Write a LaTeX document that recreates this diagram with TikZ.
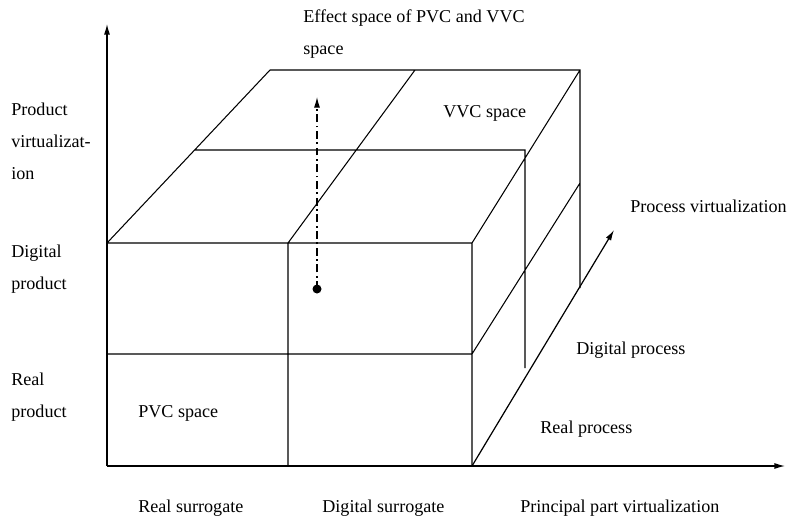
\documentclass[tikz,border=0pt]{standalone}
\usepackage{fontspec}
\setmainfont{Liberation Serif}
\usetikzlibrary{positioning, arrows.meta}
\tikzset{
>={Latex[length=6pt,width=3.4pt]}, % makes the arrow heads filled
cube line/.style={line width=0.6pt}, % sets the edges of the cube
axis line/.style={line width=0.7pt, ->}, % sets the three axes
effect line/.style={line width=0.6pt, ->, dash pattern=on 4.5pt off 2pt on 1pt off 2pt}, % dash-dot arrow
label text/.style={anchor=base west, inner sep=0pt, align=left, font=\fontsize{10.3}{18.1}\selectfont}, % sets every label (base = last line)
}

\begin{document}
\begin{tikzpicture}[x=0.02cm, y=-0.02cm]
                \useasboundingbox (0,0) rectangle (787,518);
                % front face
                \coordinate (fbl) at (107,466);
                \coordinate (fbm) at (288,466);
                \coordinate (fbr) at (472,466);
                \coordinate (fml) at (107,354);
                \coordinate (fmm) at (288,354);
                \coordinate (fmr) at (472,354);
                \coordinate (ftl) at (107,243);
                \coordinate (ftm) at (288,243);
                \coordinate (ftr) at (472,243);
                % back and middle of the cube
                \coordinate (btl) at (270,70);
                \coordinate (btm) at (415,70);
                \coordinate (btr) at (580,70);
                \coordinate (bmr) at (580,183);
                \coordinate (bbr) at (580,288);
                \coordinate (mtl) at (195,150);
                \coordinate (mtr) at (525,150);
                \coordinate (mbr) at (525,368);
                % ends of the axes
                \coordinate (yend) at (107,24);
                \coordinate (xend) at (785,466);
                \coordinate (zend) at (614,230);
                \coordinate (dot) at (317,289);
                \coordinate (dtop) at (317,97);

                \draw[axis line] (fbl) -- (yend);
                \draw[axis line] (fbl) -- (xend);
                \draw[axis line] (fbr) -- (zend);
                \draw[cube line]
                    (ftl) -- (ftr) -- (fbr)
                    (fml) -- (fmr)
                    (ftm) -- (fbm)
                    (ftl) -- (btl) -- (btr) -- (bbr)
                    (ftm) -- (btm)
                    (ftr) -- (btr)
                    (fmr) -- (bmr)
                    (mtl) -- (mtr) -- (mbr)
                    ;
                \draw[effect line] (dot) -- (dtop);
                \fill (dot) circle (4.5);

                \node[label text] (effect) at (303,54) {Effect space of PVC and VVC\\space};
                \node[label text] (vvc) at (443,117) {VVC space};
                \node[label text] (pvc) at (138,417) {PVC space};
                \node[label text] (prodvirt) at (11,179) {Product\\virtualizat-\\ion};
                \node[label text] (digprod) at (11,289) {Digital\\product};
                \node[label text] (realprod) at (11,417) {Real\\product};
                \node[label text] (procvirt) at (630,212) {Process virtualization};
                \node[label text] (digproc) at (576,354) {Digital process};
                \node[label text] (realproc) at (540,433) {Real process};
                \node[label text] (realsur) at (138,512) {Real surrogate};
                \node[label text] (digsur) at (322,512) {Digital surrogate};
                \node[label text] (partvirt) at (520,512) {Principal part virtualization};
\end{tikzpicture}
\end{document}
